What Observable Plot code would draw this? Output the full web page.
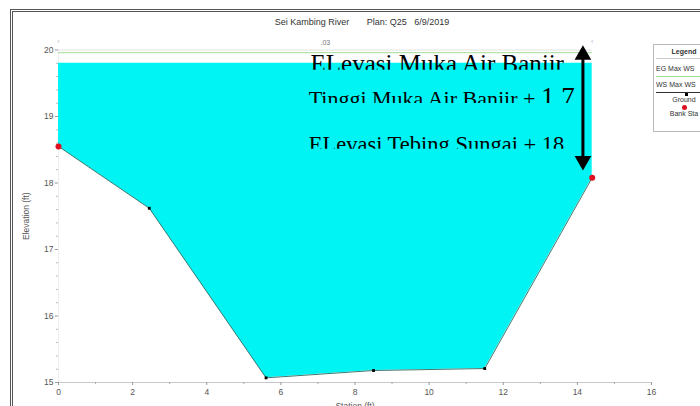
<!DOCTYPE html>
<html><head><meta charset="utf-8">
<script src="https://cdn.jsdelivr.net/npm/d3@7"></script>
<script src="https://cdn.jsdelivr.net/npm/@observablehq/plot@0.6"></script>
<style>
html,body{margin:0;padding:0;background:#fff;overflow:hidden;width:700px;height:406px}
#wrap{position:relative;width:700px;height:406px}
#frame{position:absolute;left:10px;top:9px;width:760px;height:480px;border:3px double #555;box-sizing:border-box;pointer-events:none}
#legend{position:absolute;left:653px;top:44px;width:70px;height:86px;border:1px solid #bbb;background:#fff;font-family:"Liberation Sans",Arial,sans-serif;font-size:7px;color:#333}
#legend div{position:absolute;left:0;width:60px;text-align:center;white-space:nowrap}
#legend .sep{height:0;border-top:1px solid #999;left:2px;width:60px}
</style></head>
<body><div id="wrap"><div id="chart"></div><div id="frame"></div>
<div id="legend">
<div style="top:3px;font-weight:bold">Legend</div>
<div class="sep" style="top:13px;border-color:#ccc"></div>
<div style="top:20px;left:2px;text-align:left">EG Max WS</div>
<div class="sep" style="top:31px;border-color:#9bdc8f"></div>
<div style="top:36px;left:2px;text-align:left">WS Max WS</div>
<div class="sep" style="top:47px;border-color:#2e2e2e"></div>
<div style="top:45px;width:60px;left:2px"><span style="display:inline-block;width:3px;height:3px;background:#000"></span></div>
<div style="top:51px">Ground</div>
<div style="top:59px"><span style="display:inline-block;width:5px;height:5px;border-radius:50%;background:#e01020"></span></div>
<div style="top:65px">Bank Sta</div>
</div>
</div>
<script>
// ---- data ----
const station   = [0, 2.45, 5.6, 8.5, 11.5, 14.4];
const elevation = [18.55, 17.62, 15.07, 15.18, 15.21, 18.08];
const bankStation   = [0, 14.4];
const bankElevation = [18.55, 18.08];
const wsMax = 19.8;      // WS Max WS
const egMax = 19.96;     // EG Max WS
const manningN = [".03"];
const manningX = [7.2];
const xTicks = [0, 2, 4, 6, 8, 10, 12, 14, 16];
const xMinor = [1, 3, 5, 7, 9, 11, 13, 15];
const yTicks = [15, 16, 17, 18, 19, 20];
const yMinor = d3.range(15, 20.001, 0.2).filter(v => Math.abs(v - Math.round(v)) > 1e-6);
const titleText = "Sei Kambing River\u00a0\u00a0\u00a0\u00a0\u00a0\u00a0\u00a0Plan: Q25\u00a0\u00a0\u00a06/9/2019";
// annotations
const noteText = ["ELevasi Muka Air Banjir", "Tinggi Muka Air Banjir + ", "ELevasi Tebing Sungai + 18"];
const noteBig  = ["", "1.7", ""];
const noteX    = [6.8, 6.75, 6.75];
const noteY    = [19.79, 19.27, 18.57];
const noteSize = [25, 22, 22.5];
const noteBigSize = [25, 27, 22.5];
const noteCut  = [2.2, 2.6, 3.6];   // px hidden above the baseline
const arrowX = [14.15];
const arrowTop = [20.07];
const arrowBottom = [18.19];

const ground = station.map((s, i) => ({station: s, elev: elevation[i]}));
const banks = bankStation.map((s, i) => ({station: s, elev: bankElevation[i]}));
const notes = noteText.map((t, i) => ({t, x: noteX[i], y: noteY[i], size: noteSize[i], big: noteBig[i], bigSize: noteBigSize[i], cut: noteCut[i]}));
const arrow = arrowX.map((x, i) => ({x, top: arrowTop[i], bottom: arrowBottom[i]}));

const triangleDown = {
  draw(context, size) {
    const y = -Math.sqrt(size / (Math.sqrt(3) * 3));
    context.moveTo(0, -y * 2);
    context.lineTo(-Math.sqrt(3) * y, y);
    context.lineTo(Math.sqrt(3) * y, y);
    context.closePath();
  }
};

const chart = Plot.plot({
  width: 700, height: 406,
  marginLeft: 58, marginRight: 49, marginTop: 49.5, marginBottom: 24,
  x: {domain: [0, 16]},
  y: {domain: [15, 20]},
  style: {fontFamily: "'Liberation Sans', Arial, sans-serif", fontSize: "8.5px", color: "#555", background: "transparent", overflow: "visible"},
  marks: [
    Plot.ruleY([15], {stroke: "#c8c8c8"}),
    Plot.ruleX([0], {stroke: "#eeeeee"}),
    Plot.axisX({ticks: xTicks, tickFormat: d3.format("d"), tickSize: 3, tickPadding: 3, stroke: "#999", fill: "#555", label: "Station (ft)", labelAnchor: "center", labelOffset: 26, labelArrow: "none", fontSize: 8.5}),
    Plot.axisX({ticks: xMinor, tickSize: 2, tickFormat: () => "", stroke: "#aaa", label: null}),
    Plot.axisY({ticks: yTicks, tickFormat: d3.format("d"), tickSize: 3, tickPadding: 2, stroke: "#999", fill: "#555", label: "Elevation (ft)", labelAnchor: "center", labelOffset: 36, labelArrow: "none", fontSize: 8.5}),
    Plot.axisY({ticks: yMinor, tickSize: 2, tickFormat: () => "", stroke: "#bbb", label: null}),
    // title
    Plot.text([titleText], {text: d => d, frameAnchor: "top", dy: -31, dx: 7, fontSize: 9, fill: "#333"}),
    // top n-value line and markers
    Plot.ruleY([20], {x1: () => 0, x2: () => 14.4, stroke: "#e2e2e2"}),
    Plot.text(manningN, {x: (d, i) => manningX[i], y: () => 20, text: d => d, dy: -7, fontSize: 7, fill: "#777"}),
    Plot.text(bankStation, {x: d => d, y: () => 20, text: () => "‹", dy: -8, fontSize: 7, fill: "#bbb"}),
    // water fill
    Plot.areaY(ground, {x: "station", y1: "elev", y2: () => wsMax, fill: "#00f4f4", curve: "linear"}),
    // EG line
    Plot.ruleY([egMax], {x1: () => 0, x2: () => 14.4, stroke: "#a3dd98", strokeWidth: 1}),
    // ground
    Plot.line(ground, {x: "station", y: "elev", stroke: "#3f7a70", strokeWidth: 1}),
    Plot.dot(ground, {x: "station", y: "elev", symbol: "square", r: 1.6, fill: "#000"}),
    Plot.dot(banks, {x: "station", y: "elev", r: 3, fill: "#e01020"}),
    // annotations
    Plot.text(notes, {x: "x", y: "y", text: "t", fontSize: "size", textAnchor: "start", fill: "#000",
      fontFamily: "Liberation Serif"}),
    Plot.ruleX(arrow, {x: "x", y1: "top", y2: "bottom", stroke: "#000", strokeWidth: 3, insetTop: 10, insetBottom: 10}),
    Plot.dot(arrow, {x: "x", y: "top", symbol: "triangle", r: 6.2, fill: "#000", dy: 9.6}),
    Plot.dot(arrow, {x: "x", y: "bottom", symbol: triangleDown, r: 6.2, fill: "#000", dy: -9.6})
  ]
});
document.getElementById("chart").appendChild(chart);

// larger numerals and clipped bottoms of the annotation lines, as in the reference
const svg = d3.select(chart);
const defs = svg.append("defs");
const noteEls = Array.from(chart.querySelectorAll("text")).filter(t => notes.some(n => t.textContent === n.t));
noteEls.forEach(function(node) {
  const n = notes.find(n => n.t === node.textContent);
  const i = notes.indexOf(n);
  const el = d3.select(node);
  if (n.big) {
    el.append("tspan").attr("font-size", n.bigSize).text(n.big);
  }
  let baseY;
  try { baseY = node.getStartPositionOfChar(0).y; } catch (e) { baseY = null; }
  const bb = node.getBBox();
  if (baseY == null) baseY = bb.y + bb.height * 0.8;
  const id = "noteclip" + i;
  defs.append("clipPath").attr("id", id).attr("clipPathUnits", "userSpaceOnUse")
    .append("rect")
    .attr("x", bb.x - 10).attr("y", bb.y - 40)
    .attr("width", bb.width + 40).attr("height", (baseY - n.cut) - (bb.y - 40));
  el.attr("clip-path", `url(#${id})`);
});
</script>
</body></html>
